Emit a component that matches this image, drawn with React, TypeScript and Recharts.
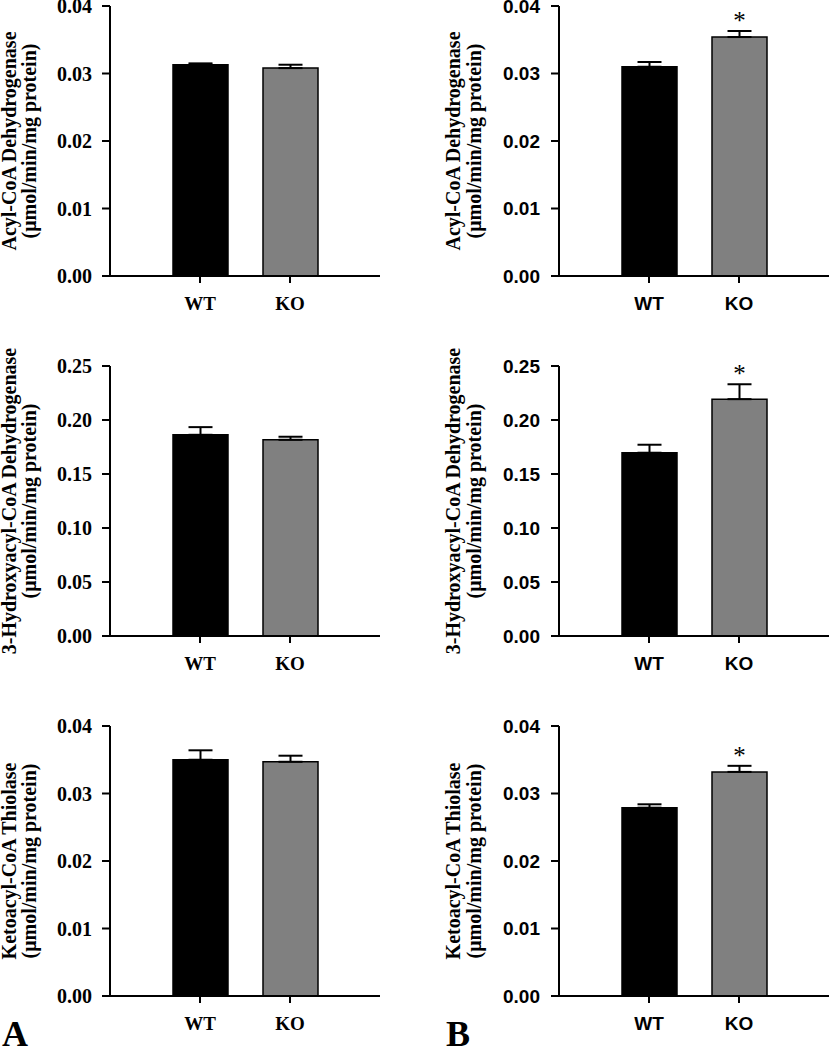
import { BarChart, Bar, XAxis, YAxis, ErrorBar, Cell, LabelList } from "recharts";

const groups = ["WT", "KO"];

// panel A (left column)
const acadA = [0.0313, 0.0308];
const acadErrA = [0.0002, 0.0005];
const hadA = [0.1863, 0.1817];
const hadErrA = [0.0071, 0.0028];
const thiolA = [0.035, 0.0347];
const thiolErrA = [0.0014, 0.0009];

// panel B (right column)
const acadB = [0.031, 0.0354];
const acadErrB = [0.0007, 0.0009];
const hadB = [0.1697, 0.2193];
const hadErrB = [0.0074, 0.0138];
const thiolB = [0.0279, 0.0332];
const thiolErrB = [0.0005, 0.0009];
const sigB = ["", "*"];

const ticks004 = [0, 0.01, 0.02, 0.03, 0.04];
const ticks025 = [0, 0.05, 0.1, 0.15, 0.2, 0.25];

const unitLine = "(\u03bcmol/min/mg protein)";
const titleAcad = ["Acyl-CoA Dehydrogenase", unitLine];
const titleHad = ["3-Hydroxyacyl-CoA Dehydrogenase", unitLine];
const titleThiol = ["Ketoacyl-CoA Thiolase", unitLine];

const barColors = ["#000000", "#808080"];
const SERIF = "'Liberation Serif', 'Times New Roman', serif";
const SANS = "'Liberation Sans', Arial, sans-serif";

// svg is taller than the plot so long rotated titles are not clipped
const SVG_H = 400;
const PLOT_TOP = 66;
const PLOT_H = 270;

type PanelProps = {
  left: number;
  top: number;
  width: number;
  axisX: number;
  values: number[];
  errs: number[];
  sigs?: string[];
  ticks: number[];
  title: string[];
  tickFont: string;
  tickSizeY: number;
  tickMarginY: number;
  titleOffsets: number[];
};

function Panel(p: PanelProps) {
  const data = groups.map((g, i) => ({
    group: g,
    value: p.values[i],
    err: [0, p.errs[i]],
    sig: p.sigs ? p.sigs[i] : "",
  }));
  const max = p.ticks[p.ticks.length - 1];

  const titleContent = (props: any) => {
    const vb = props.viewBox || {};
    const cy = vb.y + vb.height / 2;
    return (
      <g>
        {p.title.map((t, i) => {
          const bx = vb.x + vb.width - p.titleOffsets[i];
          return (
            <text
              key={i}
              x={bx}
              y={cy}
              transform={`rotate(-90 ${bx} ${cy})`}
              textAnchor="middle"
              fontFamily={SERIF}
              fontWeight="bold"
              fontSize={20}
              fill="#000"
            >
              {t}
            </text>
          );
        })}
      </g>
    );
  };

  const yTick = (props: any) => (
    <text
      x={props.x}
      y={props.y}
      dy="0.35em"
      textAnchor="end"
      fontFamily={p.tickFont}
      fontWeight="bold"
      fontSize={p.tickSizeY}
      fill="#000"
    >
      {Number(props.payload.value).toFixed(2)}
    </text>
  );

  const xTick = (props: any) => (
    <text
      x={props.x}
      y={props.y}
      dy="0.71em"
      textAnchor="middle"
      fontFamily={p.tickFont}
      fontWeight="bold"
      fontSize={19}
      fill="#000"
    >
      {props.payload.value}
    </text>
  );

  const starContent = (props: any) => {
    const { x, y, width, height, value, index } = props;
    if (!value) return null;
    const perUnit = height / p.values[index];
    const cy = y - p.errs[index] * perUnit - 13;
    return (
      <text x={x + width / 2} y={cy + 11} textAnchor="middle" fontFamily={SERIF} fontSize={25} fill="#000">
        {value}
      </text>
    );
  };

  return (
    <div style={{ position: "absolute", left: p.left, top: p.top - (PLOT_TOP - 6) }}>
      <BarChart
        width={p.width}
        height={SVG_H}
        data={data}
        margin={{ top: PLOT_TOP, right: p.width - p.axisX - 270, bottom: SVG_H - PLOT_TOP - PLOT_H - 30, left: 0 }}
        barSize={55}
      >
        <XAxis
          dataKey="group"
          padding={{ left: 45, right: 45 }}
          tickSize={7}
          tickMargin={14}
          axisLine={{ stroke: "#000", strokeWidth: 2 }}
          tickLine={{ stroke: "#000", strokeWidth: 2 }}
          tick={xTick}
        />
        <YAxis
          width={p.axisX}
          domain={[0, max]}
          ticks={p.ticks}
          interval={0}
          tickSize={8}
          tickMargin={p.tickMarginY}
          axisLine={{ stroke: "#000", strokeWidth: 2 }}
          tickLine={{ stroke: "#000", strokeWidth: 2 }}
          tick={yTick}
          label={{ content: titleContent }}
        />
        <Bar dataKey="value" stroke="#000" strokeWidth={1.5} isAnimationActive={false}>
          {data.map((d, i) => (
            <Cell key={d.group} fill={barColors[i]} />
          ))}
          <ErrorBar dataKey="err" width={12} stroke="#000" strokeWidth={2} />
          {p.sigs && <LabelList dataKey="sig" content={starContent} />}
        </Bar>
      </BarChart>
    </div>
  );
}

const colA = { left: 0, width: 400, axisX: 110, tickFont: SERIF, tickSizeY: 20, tickMarginY: 10, titleOffsets: [94, 74] };
const colB = { left: 400, width: 430, axisX: 159, tickFont: SANS, tickSizeY: 19, tickMarginY: 11, titleOffsets: [99, 78] };

export default function App() {
  return (
    <div style={{ position: "absolute", left: 0, top: 0, width: 830, height: 1050, background: "#fff", overflow: "hidden" }}>
      <Panel {...colA} top={0} values={acadA} errs={acadErrA} ticks={ticks004} title={titleAcad} />
      <Panel {...colA} top={360} values={hadA} errs={hadErrA} ticks={ticks025} title={titleHad} />
      <Panel {...colA} top={720} values={thiolA} errs={thiolErrA} ticks={ticks004} title={titleThiol} />
      <Panel {...colB} top={0} values={acadB} errs={acadErrB} sigs={sigB} ticks={ticks004} title={titleAcad} />
      <Panel {...colB} top={360} values={hadB} errs={hadErrB} sigs={sigB} ticks={ticks025} title={titleHad} />
      <Panel {...colB} top={720} values={thiolB} errs={thiolErrB} sigs={sigB} ticks={ticks004} title={titleThiol} />
      <div style={{ position: "absolute", left: 2, top: 1016, fontFamily: SERIF, fontWeight: "bold", fontSize: 36, lineHeight: "36px" }}>A</div>
      <div style={{ position: "absolute", left: 446, top: 1016, fontFamily: SERIF, fontWeight: "bold", fontSize: 36, lineHeight: "36px" }}>B</div>
    </div>
  );
}
